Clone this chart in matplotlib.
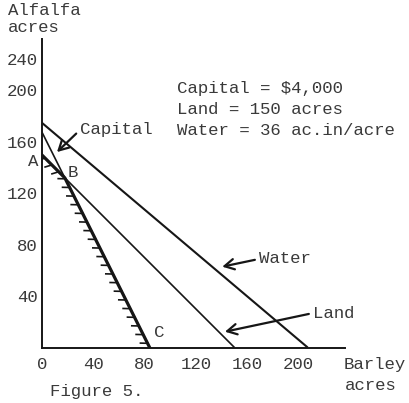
import numpy as np
import matplotlib
matplotlib.use("Agg")
import matplotlib.pyplot as plt
from matplotlib import patheffects
from matplotlib.transforms import ScaledTranslation

# constraint lines, given by their intercepts (barley acres, alfalfa acres)
constraints = ["Capital", "Land", "Water"]
barley_intercept = [84, 150, 207]
alfalfa_intercept = [168, 150, 175]

resources = ["Capital = $4,000", "Land = 150 acres", "Water = 36 ac.in/acre"]

xticks = [0, 40, 80, 120, 160, 200]
yticks = [40, 80, 120, 160, 200, 240]

ink = "#161616"
type_ink = "#3a3a3a"

plt.rcParams["font.family"] = ["Liberation Mono", "DejaVu Sans Mono"]
plt.rcParams["font.size"] = 12.5

fig = plt.figure(figsize=(4.10, 4.03), dpi=100)
ax = fig.add_axes([0.1017, 0.1377, 0.7397, 0.7653])
ax.set_xlim(0, 236)
ax.set_ylim(0, 240)

for name, bx, ay in zip(constraints, barley_intercept, alfalfa_intercept):
    lw = 1.5 if name == "Water" else 1.2
    ax.plot([0, bx], [ay, 0], color=ink, lw=lw, solid_capstyle="butt")

# feasible boundary A-B-C (land then capital), hatched on the inside
land_b, cap_b = barley_intercept[1], barley_intercept[0]
land_a, cap_a = alfalfa_intercept[1], alfalfa_intercept[0]
slope_land = land_a / land_b
slope_cap = cap_a / cap_b
bx = (cap_a - land_a) / (slope_cap - slope_land)
by = land_a - slope_land * bx
edge_x = [cap_b, bx, 0]
edge_y = [0, by, land_a]
ax.plot(edge_x, edge_y, color=ink, lw=2.3,
        path_effects=[patheffects.withTickedStroke(spacing=6.8, angle=62,
                                                   length=0.75, linewidth=1.2)])

# point labels
ax.text(-6.8, land_a - 5, "A", ha="center", va="center", color=type_ink)
ax.text(bx + 6.5, by + 4.5, "B", ha="center", va="center", color=type_ink)
ax.text(cap_b + 7.3, 11.3, "C", ha="center", va="center", color=type_ink)

# labels with arrows
arrow = dict(arrowstyle="->,head_length=0.55,head_width=0.3", color=ink,
             lw=1.6, relpos=(0, 0.5), shrinkA=1, shrinkB=0)
ax.annotate("Capital", xy=(11.9, 152.1), xytext=(29.8, 169.3),
            ha="left", va="center", color=type_ink, arrowprops=arrow)
ax.annotate("Water", xy=(140.5, 62.9), xytext=(169.1, 68.9),
            ha="left", va="center", color=type_ink, arrowprops=arrow)
ax.annotate("Land", xy=(142.6, 12.3), xytext=(211.1, 26.8),
            ha="left", va="center", color=type_ink, arrowprops=arrow)

# resource text block
for i, line in enumerate(resources):
    ax.text(105.2, 201.2 - i * 16.3, line, ha="left", va="center", color=type_ink)

# axis titles
ax.text(-26.2, 262.0, "Alfalfa", ha="left", va="center", color=type_ink)
ax.text(-26.2, 249.0, "acres", ha="left", va="center", color=type_ink)
ax.text(234.6, -13.6, "Barley", ha="left", va="center", color=type_ink)
ax.text(236.0, -29.2, "acres", ha="left", va="center", color=type_ink)
ax.text(6.5, -34.6, "Figure 5.", ha="left", va="center", color=type_ink)

ax.set_xticks(xticks)
ax.set_yticks(yticks)
ax.tick_params(length=0, colors=type_ink)
ax.tick_params(axis="x", pad=7)
ax.tick_params(axis="y", pad=2.7)

# the typed "240" sits a little below the top of the axis
top_label = ax.get_yticklabels()[-1]
top_label.set_transform(top_label.get_transform()
                        + ScaledTranslation(0, -14 / 72, fig.dpi_scale_trans))

for s in ["top", "right"]:
    ax.spines[s].set_visible(False)
for s in ["left", "bottom"]:
    ax.spines[s].set_color(ink)
    ax.spines[s].set_linewidth(1.4)

fig.savefig("out.png", dpi=100)
